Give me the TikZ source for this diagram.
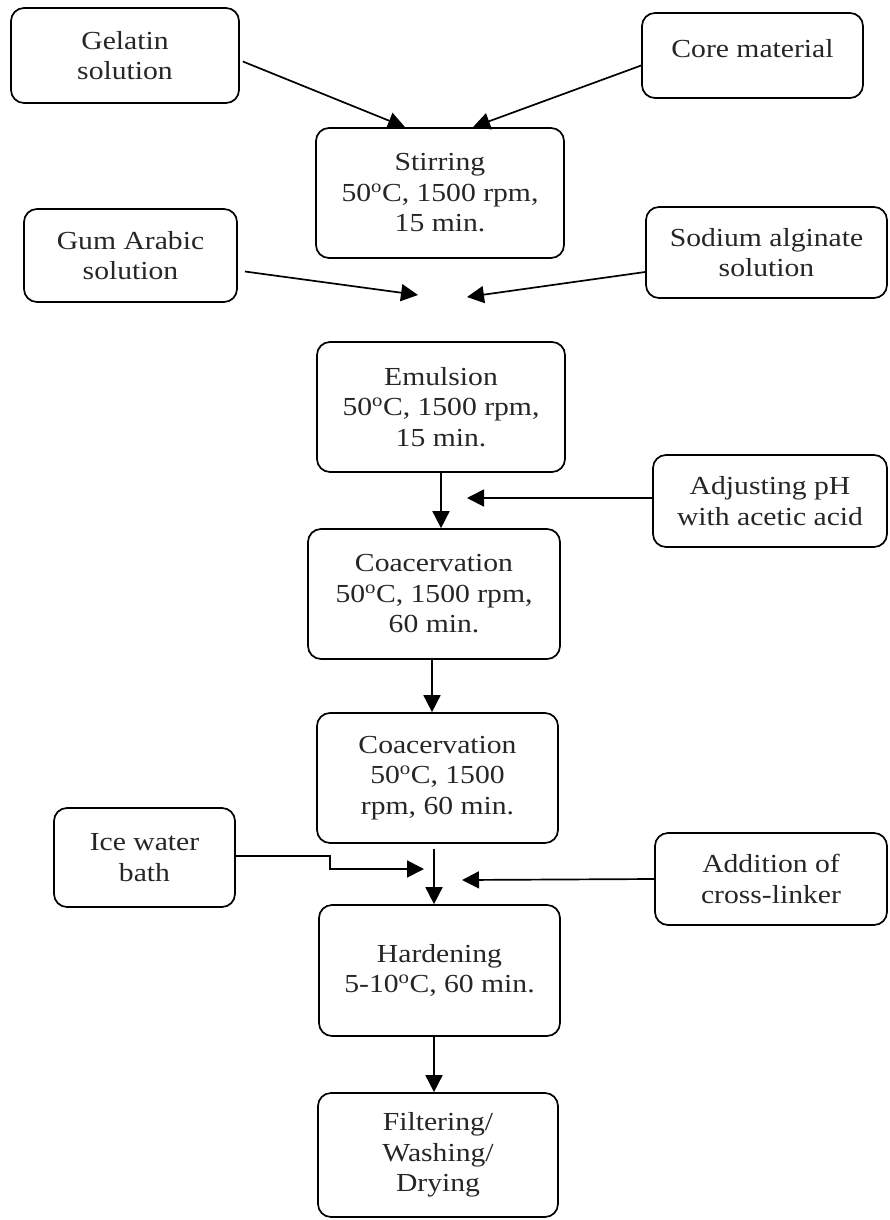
\documentclass[tikz,border=0pt]{standalone}
\usepackage{fontspec}
\setmainfont{Liberation Serif}[FakeStretch=1.14]
\usetikzlibrary{arrows.meta,calc}
\tikzset{
  box/.style={draw=black, line width=1.7pt, rounded corners=13pt, align=center,
    inner sep=0pt, font=\fontsize{26}{30.5}\selectfont, text=black!85},
  flow/.style={line width=1.7pt, -{Triangle[length=17pt,width=17pt]}},
}
\newcommand{\dg}{\textsuperscript{o}}
\begin{document}
\begin{tikzpicture}[x=1pt,y=-1pt]
\useasboundingbox[fill=white] (0,0) rectangle (889,1220);
% nodes
\node[box, minimum width=228pt, minimum height=95pt] (gel) at (125,55.5) {Gelatin\\solution};
\node[box, minimum width=221pt, minimum height=85pt] (core) at (752.5,55.5) {};
\node[font=\fontsize{26}{30.5}\selectfont, text=black!85, anchor=base] (coretxt) at (752.5,58) {Core material};
\node[box, minimum width=248pt, minimum height=130pt] (stir) at (440,193) {Stirring\\50\dg C, 1500 rpm,\\15 min.};
\node[box, minimum width=213pt, minimum height=93pt] (gum) at (130.5,255.5) {Gum Arabic\\solution};
\node[box, minimum width=241pt, minimum height=91pt] (sod) at (766.5,252.5) {Sodium alginate\\solution};
\node[box, minimum width=248pt, minimum height=130pt] (emul) at (441,407) {Emulsion\\50\dg C, 1500 rpm,\\15 min.};
\node[box, minimum width=234pt, minimum height=92pt] (ph) at (770,501) {Adjusting pH\\with acetic acid};
\node[box, minimum width=252pt, minimum height=130pt] (coa1) at (434,594) {Coacervation\\50\dg C, 1500 rpm,\\60 min.};
\node[box, minimum width=241pt, minimum height=130pt] (coa2) at (437.5,778) {Coacervation\\50\dg C, 1500\\rpm, 60 min.};
\node[box, minimum width=181pt, minimum height=99pt] (ice) at (144.5,857.5) {Ice water\\bath};
\node[box, minimum width=232pt, minimum height=92pt] (cross) at (771,879) {Addition of\\cross-linker};
\node[box, minimum width=241pt, minimum height=131pt] (hard) at (439.5,970.5) {Hardening\\5-10\dg C, 60 min.};
\node[box, minimum width=240pt, minimum height=124pt] (filt) at (438,1155) {Filtering/\\Washing/\\Drying};
% free ends
\coordinate (m1) at (418,295);
\coordinate (m2) at (467,297);
\coordinate (m3) at (467,498);
\coordinate (m4) at (424,869);
\coordinate (m5) at (462,880);
% connectors
\draw[flow] ($(gel.east)+(3,6)$) -- ($(stir.north)+(-35,0)$);
\draw[flow] ($(core.west)+(0,10)$) -- ($(stir.north)+(33,0)$);
\draw[flow] ($(gum.east)+(7,16)$) -- (m1);
\draw[flow] ($(sod.west)+(0,19.5)$) -- (m2);
\draw[flow] (emul.south) -- (emul.south |- coa1.north);
\draw[flow] ($(ph.west)+(0,-3)$) -- (m3);
\draw[flow] ($(coa1.south)+(-2,0)$) -- ($(coa1.south |- coa2.north)+(-2,0)$);
\draw[flow] ($(coa2.south)+(-3.5,5)$) -- ($(coa2.south |- hard.north)+(-3.5,0)$);
\draw[flow] ($(ice.east)+(0,-1.5)$) -- (330,856) -- (330,869) -- (m4);
\draw[flow] (cross.west) -- (m5);
\draw[flow] ($(hard.south)+(-5.5,0)$) -- ($(hard.south |- filt.north)+(-5.5,0)$);
\end{tikzpicture}
\end{document}
